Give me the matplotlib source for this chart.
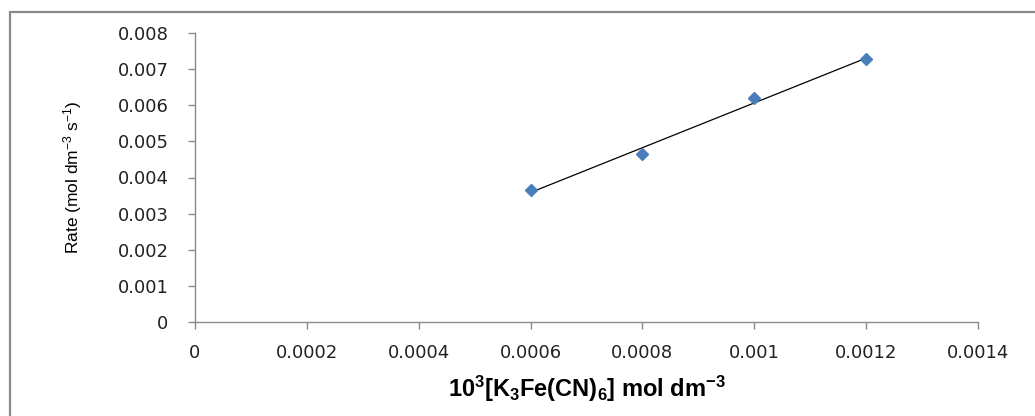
import numpy as np
import matplotlib
matplotlib.use("Agg")
import matplotlib.pyplot as plt
from matplotlib.patches import Rectangle

plt.rcParams["mathtext.default"] = "regular"

# Data
conc = [0.0006, 0.0008, 0.0010, 0.0012]
rate = [0.00366, 0.00465, 0.00619, 0.00728]
x_ticks = [0, 0.0002, 0.0004, 0.0006, 0.0008, 0.0010, 0.0012, 0.0014]
x_tick_labels = ["0", "0.0002", "0.0004", "0.0006", "0.0008", "0.001", "0.0012", "0.0014"]
y_ticks = [0, 0.001, 0.002, 0.003, 0.004, 0.005, 0.006, 0.007, 0.008]
y_tick_labels = ["0", "0.001", "0.002", "0.003", "0.004", "0.005", "0.006", "0.007", "0.008"]

fig = plt.figure(figsize=(10.35, 4.16), dpi=100)
ax = fig.add_axes([195/1035, 1-322/416, (978-195)/1035, (322-33)/416])

# Figure border
fig.patches.append(Rectangle((10/1035, -0.05), 1.2, 1-12/416+0.05, transform=fig.transFigure,
                             fill=False, edgecolor="#8a8a8a", linewidth=1.6, zorder=0))

# Trendline
coef = np.polyfit(conc, rate, 1)
xs = np.array([min(conc), max(conc)])
ax.plot(xs, np.polyval(coef, xs), color="black", linewidth=0.9, zorder=2)
ax.plot(conc, rate, linestyle="none", marker="D", markersize=6, color="#4a7ebb",
        markeredgecolor="#4a7ebb", zorder=3)

ax.set_xlim(0, 0.0014)
ax.set_ylim(0, 0.008)
ax.set_xticks(x_ticks)
ax.set_xticklabels(x_tick_labels)
ax.set_yticks(y_ticks)
ax.set_yticklabels(y_tick_labels)

for s in ["top", "right"]:
    ax.spines[s].set_visible(False)
for s in ["left", "bottom"]:
    ax.spines[s].set_color("#8a8a8a")
    ax.spines[s].set_linewidth(1.0)
ax.tick_params(axis="both", direction="out", length=5, width=1.0, color="#8a8a8a",
               labelsize=13, labelcolor="#222222")
ax.tick_params(axis="y", pad=14)
ax.tick_params(axis="x", pad=11)

ax.set_ylabel(r"Rate (mol dm$^{-3}$ s$^{-1}$)",
              family=["Liberation Sans", "DejaVu Sans"], fontsize=12.5, labelpad=24)
ax.set_xlabel(r"10$^{3}$[K$_{3}$Fe(CN)$_{6}$] mol dm$^{-3}$",
              family=["Liberation Sans", "DejaVu Sans"],
              fontsize=17, fontweight="bold", labelpad=8)

fig.savefig("out.png", dpi=100)
